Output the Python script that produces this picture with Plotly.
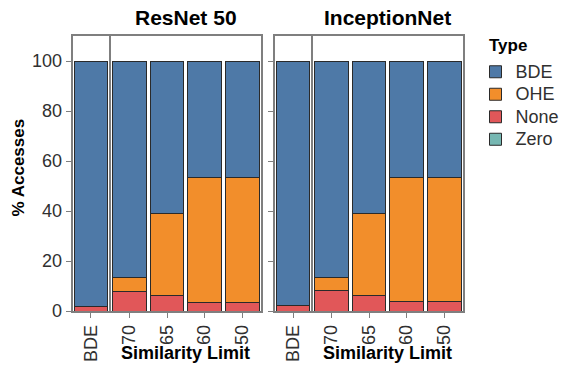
import plotly.graph_objects as go

W, H = 581, 371

models = ["ResNet 50", "InceptionNet"]
bde_cat = ["BDE"]
limits = ["70", "65", "60", "50"]
types = ["BDE", "OHE", "None", "Zero"]
colors = {"BDE": "#4E79A7", "OHE": "#F28E2B", "None": "#E15759", "Zero": "#76B7B2"}

# values: first entry = BDE configuration, then similarity limits 70, 65, 60, 50
resnet_none = [2.0, 8.0, 6.3, 3.6, 3.6]
resnet_ohe = [0.0, 5.6, 32.7, 49.8, 49.8]
resnet_bde = [98.0, 86.4, 61.0, 46.6, 46.6]
resnet_zero = [0.0, 0.0, 0.0, 0.0, 0.0]

incep_none = [2.3, 8.3, 6.4, 3.9, 3.9]
incep_ohe = [0.0, 5.3, 32.6, 49.7, 49.7]
incep_bde = [97.7, 86.4, 61.0, 46.4, 46.4]
incep_zero = [0.0, 0.0, 0.0, 0.0, 0.0]

data = {
    "ResNet 50": {"None": resnet_none, "OHE": resnet_ohe, "BDE": resnet_bde, "Zero": resnet_zero},
    "InceptionNet": {"None": incep_none, "OHE": incep_ohe, "BDE": incep_bde, "Zero": incep_zero},
}

FONT = "Liberation Sans, Arial, sans-serif"
FRAME = "#7F7F7F"
TXT = "#303030"


def fx(px):
    return px / W


def fy(py):
    return 1 - py / H


# panel pixel geometry (screen coordinates)
panels_px = [(72.5, 109.2), (110.6, 261.0), (275.0, 311.3), (312.7, 463.0)]
y_top, y_bot = 36.0, 311.0

fig = go.Figure()

stack_order = ["None", "OHE", "BDE", "Zero"]
rank = {t: i for i, t in enumerate(types)}

for mi, m in enumerate(models):
    xa_bde = 2 * mi + 1
    xa_sim = 2 * mi + 2
    for t in stack_order:
        vals = data[m][t]
        for xa, cats, v in ((xa_bde, bde_cat, vals[:1]), (xa_sim, limits, vals[1:])):
            fig.add_trace(go.Bar(
                x=cats, y=v,
                name=f'<span style="font-size:18px">{t}</span>',
                xaxis="x" if xa == 1 else f"x{xa}",
                yaxis="y" if xa == 1 else f"y{xa}",
                marker=dict(color=colors[t], line=dict(color="#2a2a2a", width=1)),
                width=0.9,
                legendgroup=t,
                legendrank=rank[t] + 1,
                showlegend=(xa == 1),
                hoverinfo="skip",
            ))

layout = dict(
    width=W, height=H,
    margin=dict(l=0, r=0, t=0, b=0, autoexpand=False),
    paper_bgcolor="white", plot_bgcolor="white",
    barmode="stack", bargap=0.1,
    font=dict(family=FONT, size=18, color=TXT),
    showlegend=True,
    legend=dict(
        x=fx(475.5), xanchor="left", y=fy(55.5), yanchor="top",
        font=dict(size=15, color=TXT, family=FONT),
        traceorder="normal", bgcolor="rgba(0,0,0,0)",
    ),
)

ydom = [fy(y_bot), fy(y_top)]
for i, (a, b) in enumerate(panels_px, start=1):
    key_x = "xaxis" if i == 1 else f"xaxis{i}"
    key_y = "yaxis" if i == 1 else f"yaxis{i}"
    cats = bde_cat if i % 2 == 1 else limits
    layout[key_x] = dict(
        domain=[fx(a), fx(b)],
        anchor="y" if i == 1 else f"y{i}",
        type="category", categoryorder="array", categoryarray=cats,
        range=[-0.5, len(cats) - 0.5],
        showline=True, linecolor=FRAME, linewidth=1.6, mirror=True,
        ticks="outside", ticklen=5, tickwidth=1.2, tickcolor=FRAME,
        tickangle=-90, tickfont=dict(size=18, color=TXT, family=FONT),
        showgrid=False, zeroline=False, fixedrange=True, automargin=False,
    )
    left_panel = (i % 2 == 1)
    layout[key_y] = dict(
        domain=ydom,
        anchor="x" if i == 1 else f"x{i}",
        range=[0, 110],
        tickvals=[0, 20, 40, 60, 80, 100],
        showticklabels=(i == 1),
        ticks="outside" if left_panel else "",
        ticklen=5, tickwidth=1.2, tickcolor=FRAME,
        tickfont=dict(size=18, color=TXT, family=FONT),
        showline=True, linecolor=FRAME, linewidth=1.6, mirror=True,
        showgrid=False, zeroline=False, fixedrange=True, automargin=False,
    )

annotations = []
for m, (a, b) in zip(models, [panels_px[1], panels_px[3]]):
    cx = fx((a + b) / 2)
    annotations.append(dict(text=f"<b>{m}</b>", x=cx, y=fy(17.5), xref="paper", yref="paper",
                            showarrow=False, font=dict(size=21, color="black", family=FONT),
                            xanchor="center", yanchor="middle"))
    annotations.append(dict(text="<b>Similarity Limit</b>", x=cx, y=fy(353), xref="paper", yref="paper",
                            showarrow=False, font=dict(size=18, color="black", family=FONT),
                            xanchor="center", yanchor="middle"))
annotations.append(dict(text="<b>% Accesses</b>", x=fx(18), y=fy(167.5), xref="paper", yref="paper",
                        showarrow=False, textangle=-90, font=dict(size=17, color="black", family=FONT),
                        xanchor="center", yanchor="middle"))
annotations.append(dict(text="<b>Type</b>", x=fx(487), y=fy(45), xref="paper", yref="paper",
                        showarrow=False, font=dict(size=17, color="black", family=FONT),
                        xanchor="left", yanchor="middle"))
layout["annotations"] = annotations

fig.update_layout(**layout)
fig.write_html("out.html",
               config={"displayModeBar": False},
               post_script="document.body.style.margin='0';document.body.style.padding='0';")
